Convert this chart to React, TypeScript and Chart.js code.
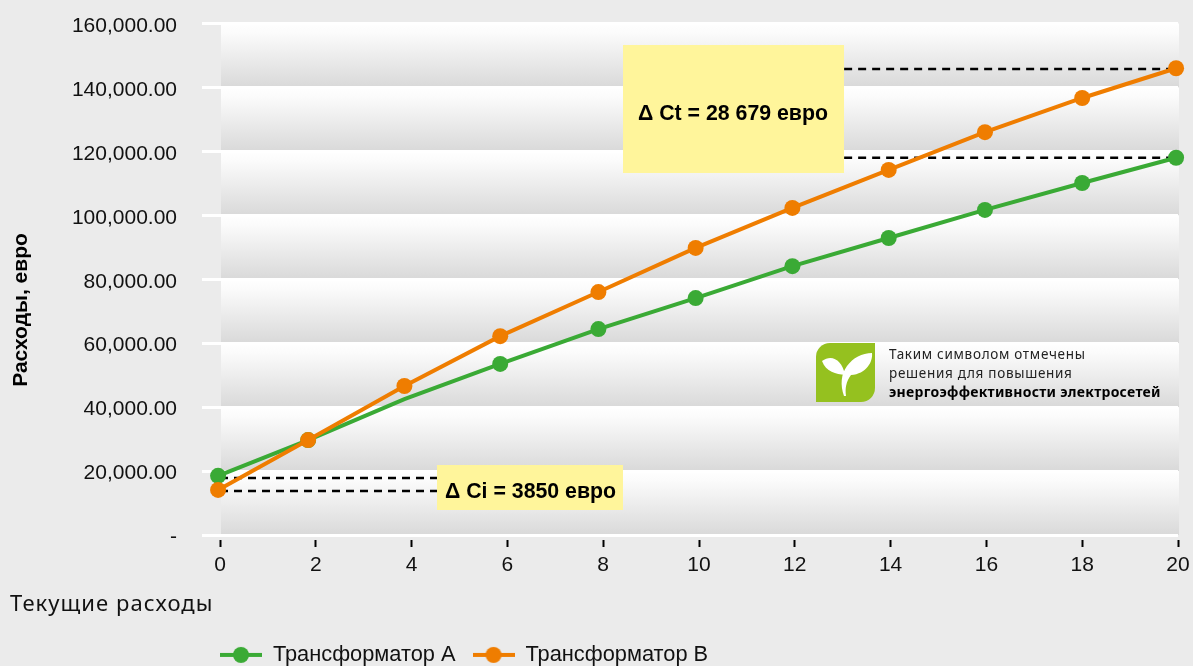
import React, { useEffect, useRef } from "react";
import { Chart, registerables } from "chart.js";

Chart.register(...registerables);

const xValuesA = [-0.04, 1.84, 3.85, 5.85, 7.9, 9.93, 11.95, 13.96, 15.97, 18, 19.96];
const xValuesB = [-0.04, 1.84, 3.85, 5.85, 7.9, 9.93, 11.95, 13.96, 15.97, 18, 19.96];
const seriesA = [18500, 29700, 42500, 53500, 64400, 74100, 84100, 92900, 101700, 110100, 118000];
const seriesB = [14100, 29700, 46600, 62200, 76000, 89800, 102300, 114200, 126000, 136700, 146000];
const radiiA = [8, 8, 0, 8, 8, 8, 8, 8, 8, 8, 8];
const seriesNames = ["Трансформатор А", "Трансформатор В"];
const colorA = "#3aaa35";
const colorB = "#ef7d00";
const dashTop = [145800, 118000];
const dashBottom = [17800, 13800];
const dashTopX = [13.03, 19.96];
const dashBottomX = [0, 4.53];
const labelCt = "Δ Ct = 28 679 евро";
const labelCi = "Δ Ci = 3850 евро";
const xTitle = "Текущие расходы";
const yTitle = "Расходы, евро";
const noteLines = ["Таким символом отмечены", "решения для повышения", "энергоэффективности электросетей"];

function legendSymbol(color: string) {
  const c = document.createElement("canvas");
  c.width = 42;
  c.height = 18;
  const g = c.getContext("2d")!;
  g.strokeStyle = color;
  g.lineWidth = 4;
  g.beginPath();
  g.moveTo(0, 9);
  g.lineTo(42, 9);
  g.stroke();
  g.fillStyle = color;
  g.beginPath();
  g.arc(21, 9, 8, 0, Math.PI * 2);
  g.fill();
  return c;
}

const decor = {
  id: "decor",
  afterLayout(chart: any) {
    const lg = chart.legend;
    const w = lg.width;
    lg.left = 203;
    lg.right = 203 + w;
    lg.top = 666 - 12 - 27;
    lg.bottom = lg.top + lg.height;

    const area = { left: 220, top: 23.5, right: 1178, bottom: 535, width: 958, height: 511.5 };
    Object.assign(chart.chartArea, area);
    const { x, y } = chart.scales;
    y.left = 0;
    y.right = area.left;
    y.width = area.left;
    y.top = area.top;
    y.bottom = area.bottom;
    y.height = area.height;
    y.configure();
    x.left = area.left;
    x.right = area.right;
    x.width = area.width;
    x.top = area.bottom;
    x.bottom = area.bottom + 60;
    x.height = 60;
    x.configure();
    if (!y.__shifted) {
      y.__shifted = true;
      const orig = y._computeLabelItems.bind(y);
      y._computeLabelItems = (ca: any) =>
        orig(ca).map((it: any) => {
          it.options.translation = [it.options.translation[0], it.options.translation[1] + 2.5];
          return it;
        });
    }
  },
  beforeDraw(chart: any) {
    const { ctx, scales } = chart;
    const y = scales.y;
    const left = 221;
    const right = 1179;
    ctx.save();
    const ticks = y.ticks.map((t: any) => y.getPixelForValue(t.value)).sort((a: number, b: number) => a - b);
    for (let i = 0; i < ticks.length - 1; i++) {
      const g = ctx.createLinearGradient(0, ticks[i], 0, ticks[i + 1]);
      g.addColorStop(0, "#ffffff");
      g.addColorStop(0.15, "#fbfbfb");
      g.addColorStop(1, "#d9d9d9");
      ctx.fillStyle = g;
      ctx.fillRect(left, ticks[i], right - left, ticks[i + 1] - ticks[i]);
    }
    ctx.restore();
  },
  afterDatasetsDraw(chart: any) {
    const { ctx } = chart;
    ctx.save();
    const yellow = "#fff59b";
    ctx.fillStyle = yellow;
    ctx.fillRect(623, 45, 221, 128);
    ctx.fillRect(437, 465, 186, 45);
    ctx.fillStyle = "#000";
    ctx.font = 'bold 21.3px "Liberation Sans"';
    ctx.textBaseline = "middle";
    ctx.textAlign = "left";
    ctx.fillText(labelCt, 638, 114);
    ctx.fillText(labelCi, 445, 492);

    // y-axis caption
    ctx.save();
    ctx.translate(21, 310);
    ctx.rotate(-Math.PI / 2);
    ctx.textAlign = "center";
    ctx.font = 'bold 21px "Liberation Sans"';
    ctx.fillText(yTitle, 0, 0);
    ctx.restore();

    // x-axis caption
    ctx.fillStyle = "#111";
    ctx.font = '22px "Noto Sans"';
    ctx.letterSpacing = "1.05px";
    ctx.fillText(xTitle, 10, 605);

    // badge
    ctx.fillStyle = "#95c11f";
    ctx.beginPath();
    ctx.roundRect(816, 343, 59, 59, [14, 0, 14, 0]);
    ctx.fill();
    ctx.fillStyle = "#fff";
    ctx.beginPath();
    ctx.moveTo(844, 396);
    ctx.bezierCurveTo(840, 385, 841, 374, 847, 366);
    ctx.bezierCurveTo(853, 358, 862, 353, 872, 353);
    ctx.bezierCurveTo(873, 362, 866, 374, 851, 375);
    ctx.bezierCurveTo(846, 382, 845, 388, 846, 396);
    ctx.closePath();
    ctx.fill();
    ctx.beginPath();
    ctx.moveTo(822, 361);
    ctx.bezierCurveTo(832, 354, 842, 360, 845, 375);
    ctx.bezierCurveTo(836, 374, 826, 372, 822, 361);
    ctx.closePath();
    ctx.fill();

    // note
    ctx.fillStyle = "#222";
    ctx.font = '13.5px "Noto Sans"';
    ctx.letterSpacing = "0.7px";
    ctx.fillText(noteLines[0], 889, 355);
    ctx.fillText(noteLines[1], 889, 374);
    ctx.fillStyle = "#000";
    ctx.font = 'bold 14px "Noto Sans"';
    ctx.letterSpacing = "0.27px";
    ctx.fillText(noteLines[2], 889, 393);
    ctx.restore();
  },
};

const dashStyle = {
  borderColor: "#000",
  borderWidth: 2.5,
  borderDash: [8, 6],
  pointRadius: 0,
  order: 3,
  clip: false as any,
};

export default function App() {
  const ref = useRef<HTMLCanvasElement>(null);
  useEffect(() => {
    document.body.style.margin = "0";
    const chart = new Chart(ref.current!, {
      type: "line",
      plugins: [decor],
      data: {
        datasets: [
          {
            label: seriesNames[0],
            data: xValuesA.map((x, i) => ({ x, y: seriesA[i] })),
            borderColor: colorA,
            backgroundColor: colorA,
            borderWidth: 4,
            pointRadius: radiiA,
            pointBorderWidth: 0,
            order: 2,
            clip: false as any,
          },
          {
            label: seriesNames[1],
            data: xValuesB.map((x, i) => ({ x, y: seriesB[i] })),
            borderColor: colorB,
            backgroundColor: colorB,
            borderWidth: 4,
            pointRadius: 8,
            pointBorderWidth: 0,
            order: 1,
            clip: false as any,
          },
          { label: "d1", data: dashTopX.map((x) => ({ x, y: dashTop[0] })), ...dashStyle },
          { label: "d2", data: dashTopX.map((x) => ({ x, y: dashTop[1] })), ...dashStyle },
          { label: "d3", data: dashBottomX.map((x) => ({ x, y: dashBottom[0] })), ...dashStyle },
          { label: "d4", data: dashBottomX.map((x) => ({ x, y: dashBottom[1] })), ...dashStyle },
        ],
      },
      options: {
        animation: false,
        responsive: false,
        layout: { autoPadding: false, padding: 0 },
        elements: {
          line: { tension: 0 },
          point: { pointStyle: "circle" },
        },
        plugins: {
          tooltip: { enabled: false },
          legend: {
            position: "bottom",
            align: "start",
            labels: {
              usePointStyle: true,
              pointStyleWidth: 42,
              padding: 17,
              color: "#111",
              font: { family: '"Liberation Sans"', size: 21.8 },
              generateLabels: (c: any) =>
                [colorA, colorB].map((col, i) => ({
                  text: c.data.datasets[i].label,
                  datasetIndex: i,
                  pointStyle: legendSymbol(col),
                  fillStyle: col,
                  strokeStyle: col,
                  lineWidth: 0,
                  fontColor: "#111",
                })),
            },
          },
        },
        scales: {
          x: {
            type: "linear",
            min: 0,
            max: 20,
            border: { display: false },
            grid: {
              drawOnChartArea: false,
              tickLength: 12,
              tickWidth: 2,
              tickColor: "#000",
              tickBorderDash: [7, 5],
              tickBorderDashOffset: 7,
            },
            ticks: {
              stepSize: 2,
              maxRotation: 0,
              autoSkip: false,
              padding: 6,
              color: "#111",
              font: { family: '"Liberation Sans"', size: 21 },
            },
          },
          y: {
            min: 0,
            max: 160000,
            border: { display: false },
            grid: {
              color: "#fff",
              lineWidth: 3,
              tickLength: 18,
              tickColor: "#fff",
              tickWidth: 3,
            },
            ticks: {
              stepSize: 20000,
              padding: 25,
              color: "#111",
              font: { family: '"Liberation Sans"', size: 21 },
              callback: (v: any) =>
                v === 0 ? "-" : Number(v).toLocaleString("en-US", { minimumFractionDigits: 2, maximumFractionDigits: 2 }),
            },
          },
        },
      },
    } as any);
    return () => chart.destroy();
  }, []);
  return (
    <div style={{ position: "absolute", left: 0, top: 0, width: 1193, height: 666, background: "#ebebeb", overflow: "hidden" }}>
      <canvas ref={ref} width={1193} height={666} style={{ display: "block" }} />
    </div>
  );
}
